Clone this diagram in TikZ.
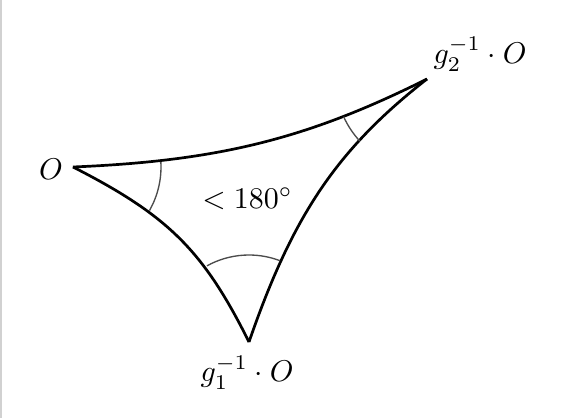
\documentclass[tikz,border=0pt]{standalone}
\begin{document}
\begin{tikzpicture}[x=0.33333pt,y=0.33333pt,
  edge/.style={line width=0.9pt},
  anglearc/.style={line width=0.45pt,draw=black!70},
  lbl/.style={inner sep=0pt,anchor=base}]
\useasboundingbox (0,0) rectangle (562,418);
\fill[black!18] (0,0) rectangle (2.5,418);
% vertices
\coordinate (O) at (73,251);
\coordinate (G2) at (427,339);
\coordinate (G1) at (249,76);
% edges
\draw[edge] (O) .. controls (218,257) and (307,279) .. (G2);
\draw[edge] (O) .. controls (168.1,202.5) and (203.4,167.5) .. (G1);
\draw[edge] (G1) .. controls (292.8,203.1) and (337.3,268.9) .. (G2);
% angle arcs
\draw[anglearc] (O) ++(3.3:88) arc[start angle=3.3, end angle=-29.7, radius=88];
\draw[anglearc] (G2) ++(204.3:91.5) arc[start angle=204.3, end angle=222.8, radius=91.5];
\draw[anglearc] (G1) ++(118.9:87) arc[start angle=118.9, end angle=69.1, radius=87];
% labels
\node[lbl] (lO) at (51,238) {$O$};
\node[lbl] (lG2) at (480,354.5) {$g_2^{-1}\cdot O$};
\node[lbl] (lG1) at (247,36) {$g_1^{-1}\cdot O$};
\node[lbl] (lang) at (247.5,209.7) {$<180^\circ$};
\end{tikzpicture}
\end{document}
